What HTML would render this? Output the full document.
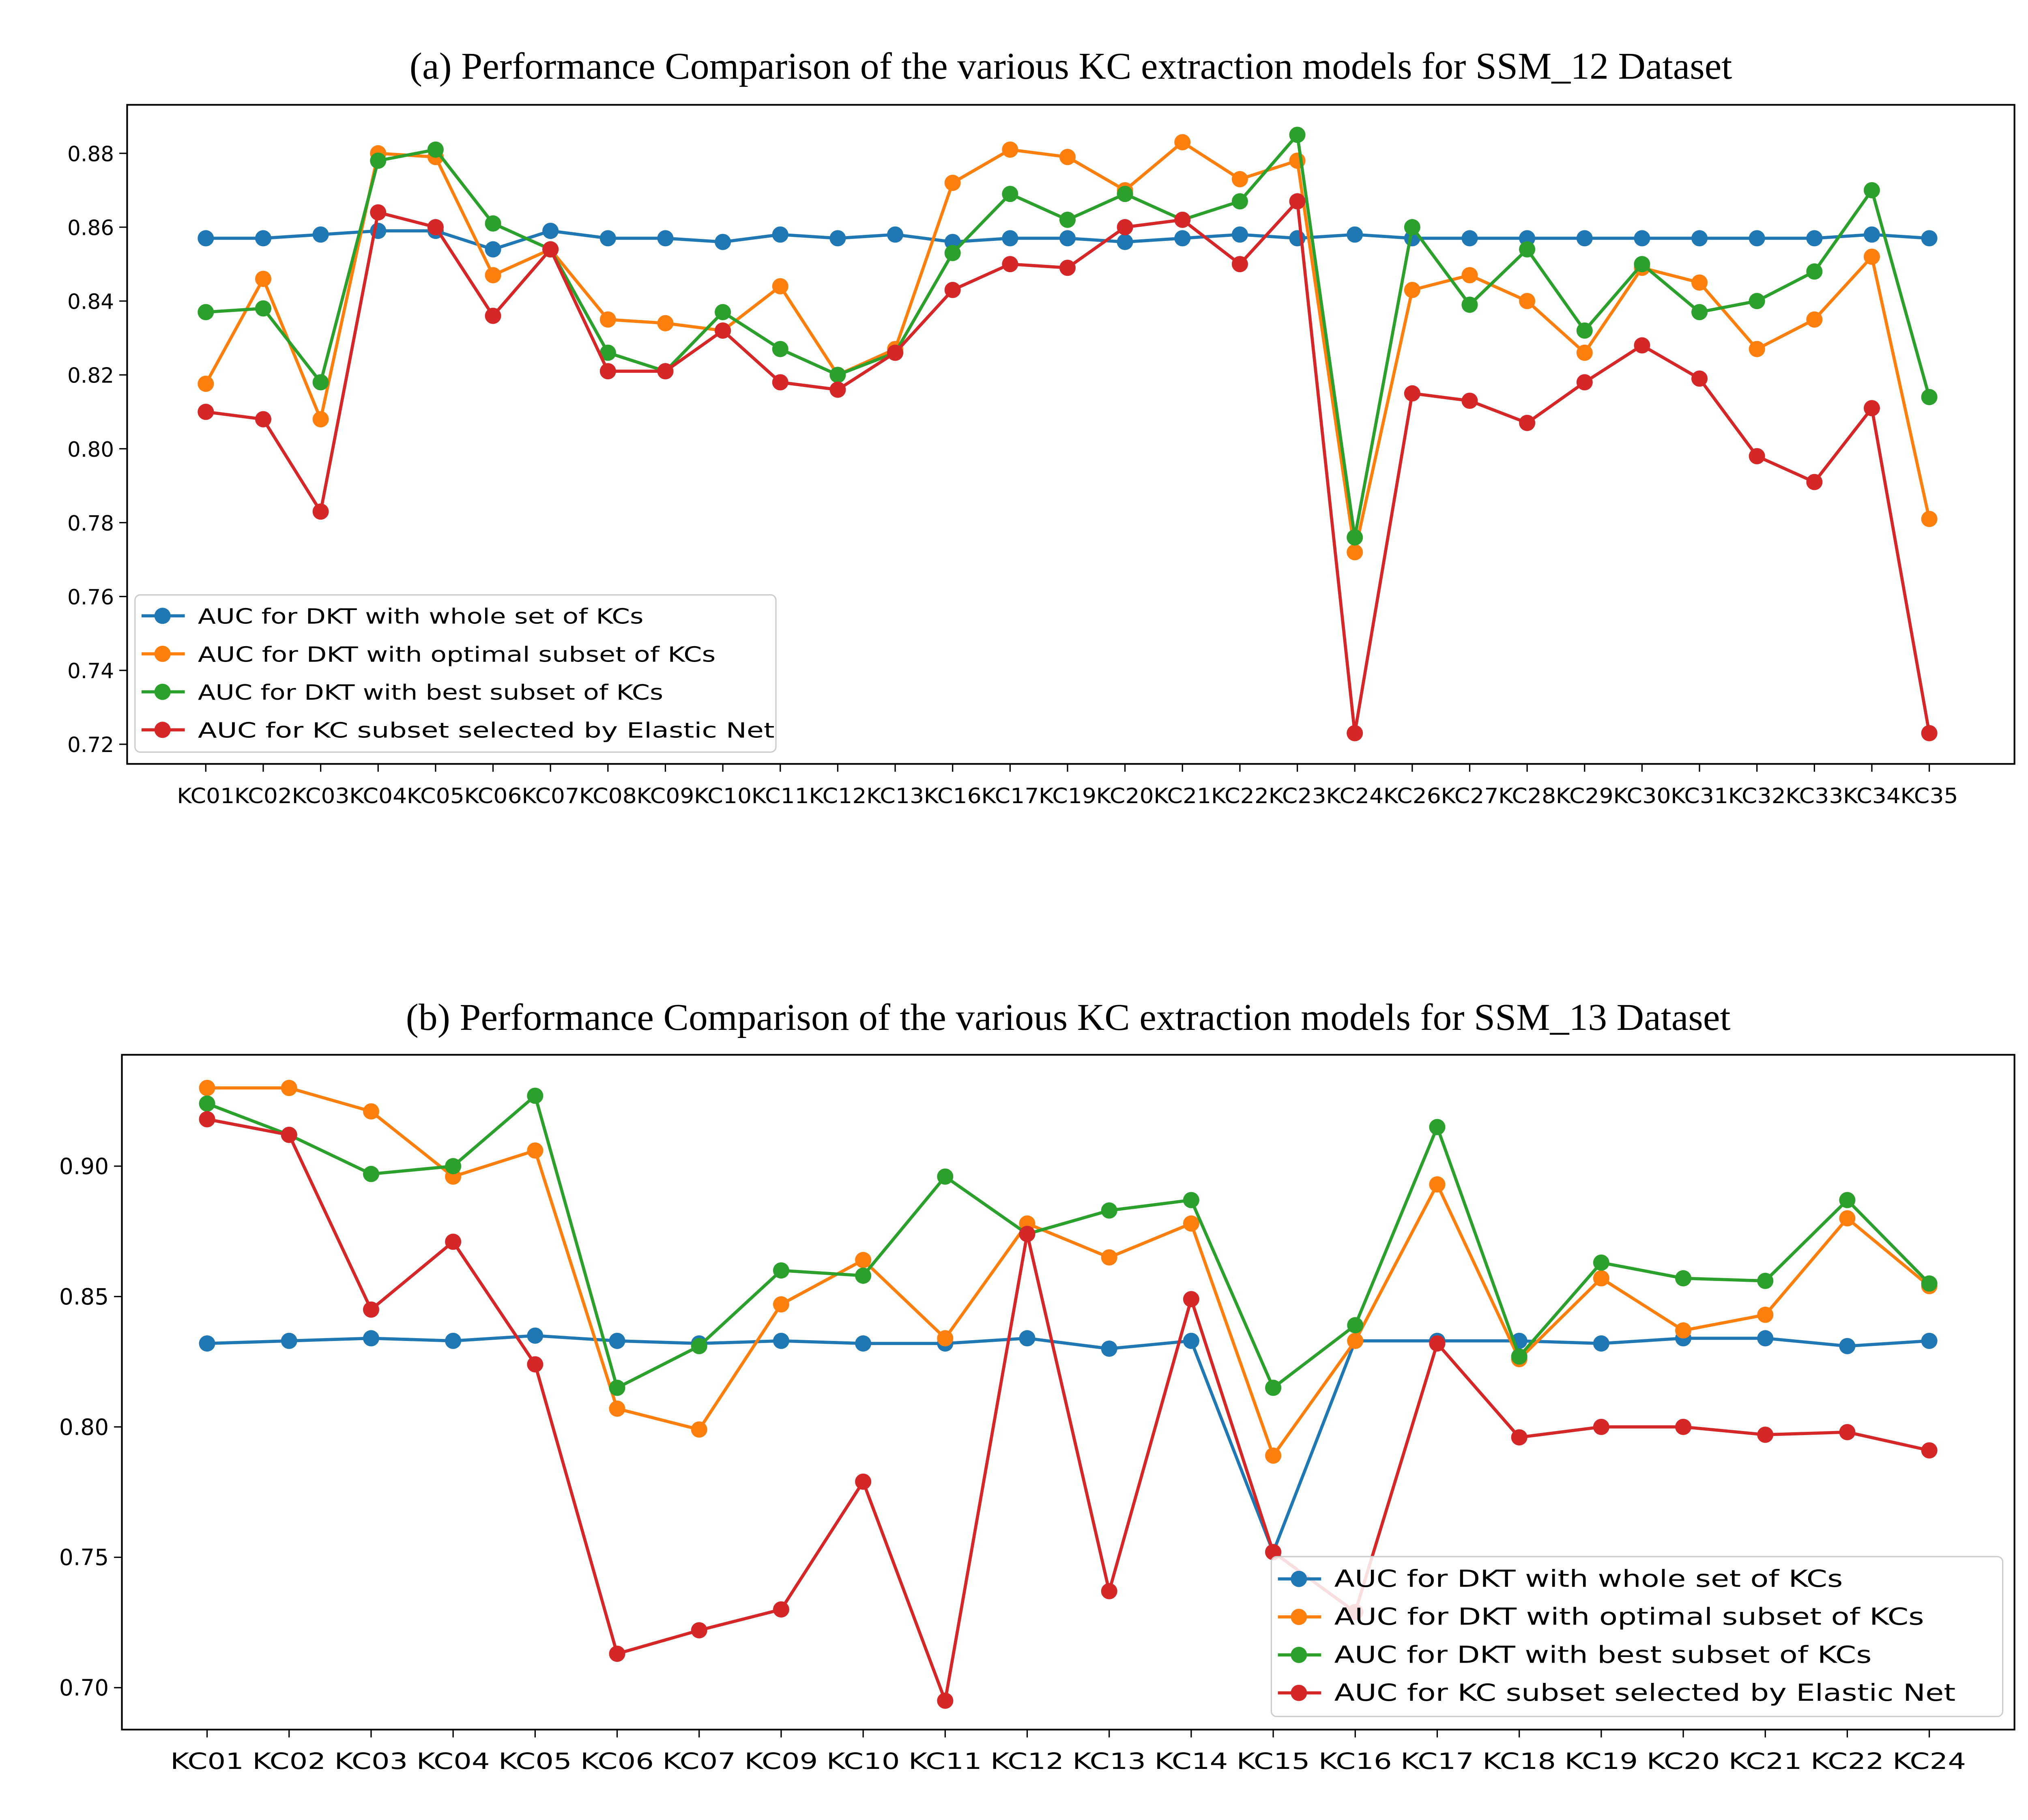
<!DOCTYPE html>
<html><head><meta charset="utf-8"><style>html,body{margin:0;padding:0;background:#fff}svg{display:block}</style></head>
<body>
<svg id="fig" width="5041" height="4487" viewBox="0 0 1560 1389" preserveAspectRatio="none" xmlns="http://www.w3.org/2000/svg" font-family="'DejaVu Sans','Liberation Sans',sans-serif">
<rect width="1560" height="1389" fill="#fff"/>
</svg>
<script>
const catsA=["KC01","KC02","KC03","KC04","KC05","KC06","KC07","KC08","KC09","KC10","KC11","KC12","KC13","KC16","KC17","KC19","KC20","KC21","KC22","KC23","KC24","KC26","KC27","KC28","KC29","KC30","KC31","KC32","KC33","KC34","KC35"];
const blueA=[0.857,0.857,0.858,0.859,0.859,0.854,0.859,0.857,0.857,0.856,0.858,0.857,0.858,0.856,0.857,0.857,0.856,0.857,0.858,0.857,0.858,0.857,0.857,0.857,0.857,0.857,0.857,0.857,0.857,0.858,0.857];
const orangeA=[0.8176,0.846,0.808,0.880,0.879,0.847,0.854,0.835,0.834,0.832,0.844,0.820,0.827,0.872,0.881,0.879,0.870,0.883,0.873,0.878,0.772,0.843,0.847,0.840,0.826,0.849,0.845,0.827,0.835,0.852,0.781];
const greenA=[0.837,0.838,0.818,0.878,0.881,0.861,0.854,0.826,0.821,0.837,0.827,0.820,0.826,0.853,0.869,0.862,0.869,0.862,0.867,0.885,0.776,0.860,0.839,0.854,0.832,0.850,0.837,0.840,0.848,0.870,0.814];
const redA=[0.810,0.808,0.783,0.864,0.860,0.836,0.854,0.821,0.821,0.832,0.818,0.816,0.826,0.843,0.850,0.849,0.860,0.862,0.850,0.867,0.723,0.815,0.813,0.807,0.818,0.828,0.819,0.798,0.791,0.811,0.723];
const ticksA=[0.72,0.74,0.76,0.78,0.80,0.82,0.84,0.86,0.88];
const catsB=["KC01","KC02","KC03","KC04","KC05","KC06","KC07","KC09","KC10","KC11","KC12","KC13","KC14","KC15","KC16","KC17","KC18","KC19","KC20","KC21","KC22","KC24"];
const blueB=[0.832,0.833,0.834,0.833,0.835,0.833,0.832,0.833,0.832,0.832,0.834,0.830,0.833,0.752,0.833,0.833,0.833,0.832,0.834,0.834,0.831,0.833];
const orangeB=[0.930,0.930,0.921,0.896,0.906,0.807,0.799,0.847,0.864,0.834,0.878,0.865,0.878,0.789,0.833,0.893,0.826,0.857,0.837,0.843,0.880,0.854];
const greenB=[0.924,0.912,0.897,0.900,0.927,0.815,0.831,0.860,0.858,0.896,0.874,0.883,0.887,0.815,0.839,0.915,0.827,0.863,0.857,0.856,0.887,0.855];
const redB=[0.918,0.912,0.845,0.871,0.824,0.713,0.722,0.730,0.779,0.695,0.874,0.737,0.849,0.752,0.729,0.832,0.796,0.800,0.800,0.797,0.798,0.791];
const ticksB=[0.70,0.75,0.80,0.85,0.90];
const labels=["AUC for DKT with whole set of KCs","AUC for DKT with optimal subset of KCs","AUC for DKT with best subset of KCs","AUC for KC subset selected by Elastic Net"];
const colors=["#1f77b4","#ff7f0e","#2ca02c","#d62728"];
const NS="http://www.w3.org/2000/svg";
const svg=document.getElementById('fig');
function mk(tag,attrs,parent,text){const e=document.createElementNS(NS,tag);for(const k in attrs)e.setAttribute(k,attrs[k]);if(text!==undefined)e.textContent=text;(parent||svg).appendChild(e);return e;}

function chart(cfg){
  const g=mk('g',{});
  
  
  const xs=i=>cfg.x0+i*(cfg.x1-cfg.x0)/(cfg.cats.length-1);
  const ys=v=>cfg.yA+(v-cfg.vA)*(cfg.yB-cfg.yA)/(cfg.vB-cfg.vA);
  const t=mk('text',{x:(cfg.fx0+cfg.fx1)/2,y:cfg.ty,'text-anchor':'middle','font-family':"'Liberation Serif',serif",'font-size':29},g,cfg.title);
  
  
  cfg.ticks.forEach(v=>{
    const y=ys(v);
    mk('line',{x1:cfg.fx0-6,x2:cfg.fx0,y1:y,y2:y,stroke:'#000','stroke-width':1},g);
    const l=mk('text',{x:cfg.fx0-10,y:y+6,'text-anchor':'end','font-size':cfg.fs},g,v.toFixed(2));
    
    
  });
  cfg.cats.forEach((c,i)=>{
    const x=xs(i);
    mk('line',{x1:x,x2:x,y1:cfg.fy1,y2:cfg.fy1+6,stroke:'#000','stroke-width':1},g);
    const l=mk('text',{x:x,y:cfg.fy1+30,'text-anchor':'middle','font-size':cfg.fs,textLength:cfg.tl,lengthAdjust:'spacingAndGlyphs'},g,c);
    
    
  });
  cfg.series.forEach((s,si)=>{
    const sg=mk('g',{},g);
    
    
    mk('polyline',{points:s.map((v,i)=>xs(i)+','+ys(v)).join(' '),fill:'none',stroke:colors[si],'stroke-width':2.4},sg);
    s.forEach((v,i)=>{
      const p=mk('circle',{cx:xs(i),cy:ys(v),r:6.2,fill:colors[si]},sg);
      
      
    });
  });
  const fr=mk('rect',{x:cfg.fx0,y:cfg.fy0,width:cfg.fx1-cfg.fx0,height:cfg.fy1-cfg.fy0,fill:'none',stroke:'#000','stroke-width':1.3},g);
  
  
  const L=cfg.leg;
  const lg=mk('g',{},g);
  
  
  mk('rect',{x:L.x,y:L.y,width:L.w,height:L.h,rx:4,fill:'#fff','fill-opacity':0.85,stroke:'#ccc'},lg);
  labels.forEach((lab,i)=>{
    const y=L.y+L.pad+i*L.dy;
    const e=mk('g',{},lg);
    
    
    mk('line',{x1:L.x+5,x2:L.x+38,y1:y,y2:y,stroke:colors[i],'stroke-width':2.4},e);
    mk('circle',{cx:L.x+21,cy:y,r:6.2,fill:colors[i]},e);
    mk('text',{x:L.x+48,y:y+6,'font-size':L.fs,textLength:L.tl[i],lengthAdjust:'spacingAndGlyphs'},e,lab);
  });
}
chart({name:'chart-ssm12',title:'(a) Performance Comparison of the various KC extraction models for SSM_12 Dataset',ty:60,
  cats:catsA,series:[blueA,orangeA,greenA,redA],ticks:ticksA,fx0:97,fx1:1537,fy0:80,fy1:583,
  x0:157,x1:1472,vA:0.88,yA:117,vB:0.72,yB:568,fs:16,tl:44,
  leg:{x:103,y:454,w:489,h:120,pad:16,dy:29,fs:16,tl:[340,395,355,440]}});
chart({name:'chart-ssm13',title:'(b) Performance Comparison of the various KC extraction models for SSM_13 Dataset',ty:786,
  cats:catsB,series:[blueB,orangeB,greenB,redB],ticks:ticksB,fx0:93,fx1:1537,fy0:805,fy1:1320,
  x0:158,x1:1472,vA:0.90,yA:890,vB:0.70,yB:1288,fs:17,tl:56,
  leg:{x:970,y:1188,w:558,h:122,pad:17,dy:29,fs:18,tl:[388,450,410,474]}});
</script>
</body></html>
